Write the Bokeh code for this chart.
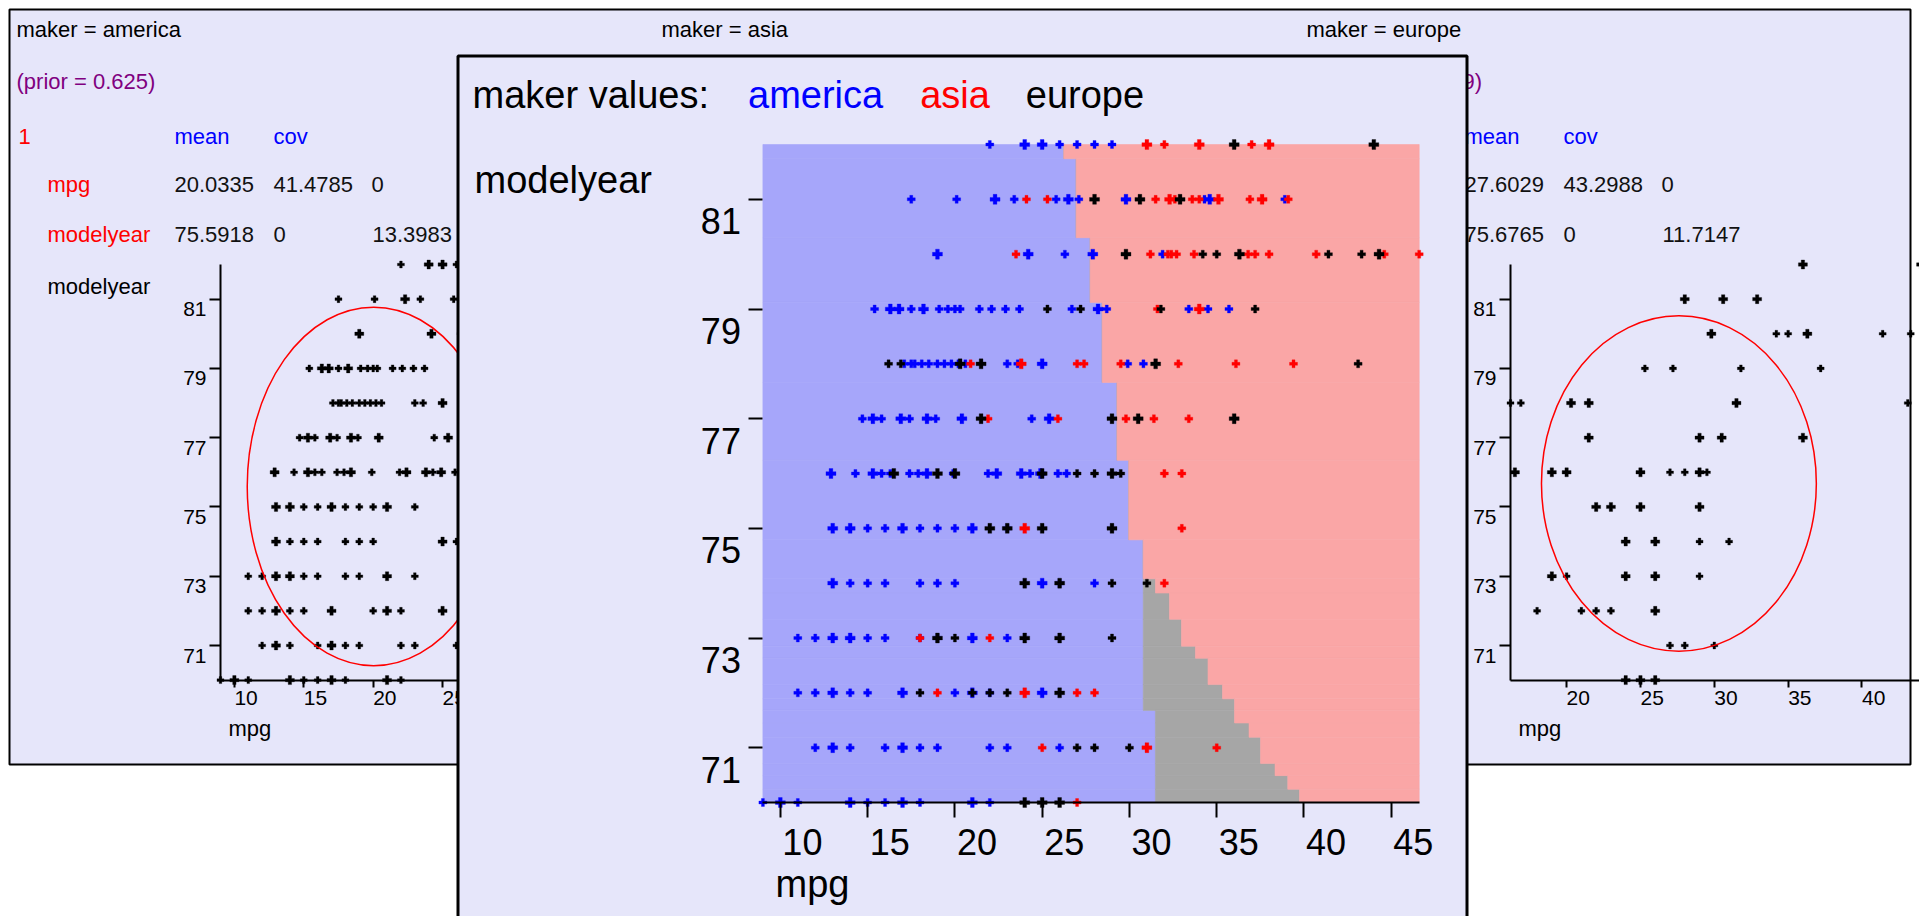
import math
from collections import Counter
from bokeh.plotting import figure
from bokeh.models import Range1d, LinearAxis, FixedTicker
from bokeh.core.properties import value
from bokeh.embed import file_html
from bokeh.resources import INLINE

# ---------------- data ----------------
makers = ["america", "asia", "europe"]
maker_colors = ["#0000ff", "#ff0000", "#000000"]
priors = ["0.625", "0.201531", "0.173469"]

# mpg values of the cars, per model year
america = {
    70: [9, 10, 10, 11, 14, 14, 15, 16, 17, 17, 18, 21, 21, 22],
    71: [12, 13, 13, 14, 16, 17, 17, 18, 19, 22, 23, 26],
    72: [11, 12, 13, 13, 14, 15, 17, 17, 20, 21, 21, 22, 25, 25],
    73: [11, 12, 13, 13, 14, 14, 15, 16, 18, 19, 21, 21, 23],
    74: [13, 13, 14, 15, 16, 18, 19, 20, 25, 25, 26, 28],
    75: [13, 13, 14, 14, 15, 16, 17, 17, 18, 19, 20, 21, 21, 23],
    76: [12.9, 12.9, 14.3, 15.3, 15.3, 15.8, 16.3, 17.4, 17.9, 18.4, 18.4, 19.9,
         21.9, 22.4, 22.4, 23.8, 23.8, 24.3, 24.9, 24.9, 25.9, 26.4],
    77: [14.7, 15.3, 15.3, 15.8, 16.9, 16.9, 17.4, 18.4, 18.4, 18.9, 20.4, 20.4,
         24.4, 25.4, 25.4],
    78: [17.1, 17.5, 17.7, 18.1, 18.5, 19.0, 19.4, 19.8, 20.2, 20.6, 23.0, 23.6,
         25.0, 25.0, 29.9, 30.8],
    79: [15.4, 16.3, 16.3, 16.8, 16.8, 17.5, 18.2, 18.2, 19.1, 19.6, 20.0, 20.3,
         21.4, 22.1, 22.9, 23.7, 26.7, 28.2, 28.2, 28.7, 33.4, 34.5, 35.7],
    80: [19.0, 19.0, 24.2, 24.2, 26.3, 27.9, 27.9, 31.9],
    81: [17.5, 20.1, 22.3, 22.3, 23.4, 25.8, 26.5, 26.5, 27.1, 29.8, 29.8, 34.3,
         34.6, 34.6, 38.9],
    82: [22, 24, 24, 25, 25, 26, 27, 28, 29],
}
asia = {
    70: [27],
    71: [25, 31, 31, 35],
    72: [19, 24, 24, 27, 28],
    73: [18, 22],
    74: [32],
    75: [24, 24, 33],
    76: [32, 33],
    77: [21.9, 25.9, 29.8, 31.4, 33.4],
    78: [20.9, 23.8, 23.8, 27.0, 27.4, 29.5, 32.8, 36.1, 39.4],
    79: [31.6, 34.0, 34.0],
    80: [23.5, 31.2, 32.2, 32.4, 32.7, 33.7, 36.8, 37.2, 38.0, 40.7, 44.6, 46.6],
    81: [24.1, 25.3, 31.5, 32.3, 32.3, 32.6, 33.6, 34.0, 35.1, 35.1, 36.9, 37.6,
         37.6, 39.1],
    82: [31, 31, 32, 34, 34, 37, 38, 38],
}
europe = {
    70: [24, 24, 25, 25, 26, 26],
    71: [27, 28, 30],
    72: [18, 21, 22, 23, 26, 26],
    73: [19, 19, 20, 24, 24, 26, 26, 29],
    74: [24, 24, 26, 26, 29, 31],
    75: [22, 22, 23, 23, 25, 25, 25, 29, 29],
    76: [16.5, 16.5, 19, 19, 20, 20, 25, 25, 27, 28, 29, 29, 29.5],
    77: [21.5, 21.5, 29, 29, 30.5, 30.5, 36, 36],
    78: [16.2, 16.9, 20.3, 20.3, 21.5, 21.5, 31.5, 31.5, 43.1],
    79: [25.3, 27.2, 31.8, 37.2],
    80: [29.8, 29.8, 34.2, 35.0, 36.3, 36.3, 41.4, 43.3, 44.3, 44.3],
    81: [28, 28, 30.6, 30.6, 32.9, 32.9],
    82: [36, 36, 44, 44],
}

america_mean = [20.0335, 75.5918]
america_cov = [41.4785, 0, 0, 13.3983]
europe_mean = [27.6029, 75.6765]
europe_cov = [43.2988, 0, 0, 11.7147]

mpg_ticks = [10, 15, 20, 25, 30, 35, 40, 45]
year_ticks = [71, 73, 75, 77, 79, 81]
year_min, year_max = 70, 82

# decision regions (model-year bands, top to bottom) and their mpg edges
band_edges = [82.00, 81.74, 80.30, 79.12, 77.66, 76.24, 74.79, 74.08, 73.82, 73.34,
              72.85, 72.63, 72.15, 71.89, 71.68, 71.45, 71.19, 70.71, 70.49, 70.24, 70.00]
america_edge = [26.24, 26.95, 27.75, 28.44, 29.29, 29.96, 30.79, 30.79, 30.79, 30.79,
                30.79, 30.79, 30.79, 30.79, 31.49, 31.49, 31.49, 31.49, 31.49, 31.49]
europe_edge = [26.24, 26.95, 27.75, 28.44, 29.29, 29.96, 30.79, 31.49, 32.29, 32.98,
               33.78, 34.50, 35.33, 36.02, 36.02, 36.85, 37.51, 38.34, 39.07, 39.74]

# ---------------- layout (page pixels) ----------------
W, H = 1919, 916
PX0, PY0 = 0, 0
LAV = "#e6e6fa"
FONT = value("Liberation Sans")
BASE_FIX = 0.33          # baseline correction, in em
PANEL_DX = 645
SM_AX_X = 220
SM_AX_LEN = 415
SM_Y_LO, SM_Y_HI = 679.6, 264.0
C_X_LO, C_X_HI = 762.4, 1418.7
C_Y_LO, C_Y_HI = 802.0, 144.0

p = figure(width=W, height=H, output_backend="svg", toolbar_location=None,
           x_range=Range1d(PX0, PX0 + W), y_range=Range1d(PY0 + H, PY0),
           x_axis_type=None, y_axis_type=None, min_border=0,
           outline_line_color=None, background_fill_color="white",
           border_fill_color="white")


def xrange_for(d0, d1, p0, p1):
    s = (d1 - d0) / (p1 - p0)
    return Range1d(start=d0 + (PX0 - p0) * s, end=d0 + (PX0 + W - p0) * s)


def yrange_for(d0, d1, p0, p1):
    s = (d1 - d0) / (p1 - p0)
    return Range1d(start=d0 + (PY0 + H - p0) * s, end=d0 + (PY0 - p0) * s)


def txt(xs, ys, labels, color, size, level="glyph", align="left", **kw):
    fix = BASE_FIX * float(size[:-2])
    if "y_offset" in kw:
        kw["y_offset"] = kw["y_offset"] - fix
    else:
        ys = [y - fix for y in ys]
    r = p.text(x=xs, y=ys, text=labels, text_font=FONT, text_font_size=size,
               text_color=color, text_align=align, text_baseline="alphabetic", **kw)
    r.level = level
    return r


def counted(d):
    c = Counter((v, yr) for yr, vals in d.items() for v in vals)
    keys = list(c.keys())
    return [k[0] for k in keys], [k[1] for k in keys], [c[k] for k in keys]


def axis(kind, xname, yname, loc, bounds, ticks, tick_out, level, line=True):
    ax = LinearAxis(x_range_name=xname, y_range_name=yname, fixed_location=loc,
                    bounds=bounds, ticker=FixedTicker(ticks=ticks, minor_ticks=[]))
    ax.major_tick_in = 0
    ax.major_tick_out = tick_out
    ax.minor_tick_in = 0
    ax.minor_tick_out = 0
    ax.axis_line_width = 2
    ax.major_tick_line_width = 2
    ax.major_label_text_color = None   # tick labels are drawn as text below
    ax.level = level
    if not line:
        ax.axis_line_color = None
    p.add_layout(ax, "below" if kind == "x" else "left")
    return ax


def tick_labels(kind, xname, yname, ticks, loc, size, xoff, yoff, level):
    labels = [str(t) for t in ticks]
    if kind == "x":
        xs, ys, align = ticks, [loc] * len(ticks), "left"
    else:
        xs, ys, align = [loc] * len(ticks), ticks, "right"
    return txt(xs, ys, labels, "black", size, level=level, align=align,
               x_offset=xoff, y_offset=yoff, x_range_name=xname, y_range_name=yname)


# ---------------- background window with the three class panels ----------------
bg = p.quad(left=[9], right=[1910], top=[9], bottom=[764], fill_color=LAV,
            line_color="black", line_width=2)
bg.level = "image"

panel_data = {"america": (america, america_mean, america_cov),
              "europe": (europe, europe_mean, europe_cov)}

for k, maker in enumerate(makers):
    dx = k * PANEL_DX
    txt([16 + dx], [36.5], [f"maker = {maker}"], "black", "22px", level="image")
    if maker not in panel_data:
        continue
    data, mean, cov = panel_data[maker]
    txt([16 + dx], [88], [f"(prior = {priors[k]})"], "#800080", "22px", level="image")
    txt([18 + dx], [143.5], ["1"], "#ff0000", "22px", level="image")
    txt([174 + dx, 273 + dx], [143.5, 143.5], ["mean", "cov"], "#0000ff", "22px",
        level="image")
    txt([47 + dx, 47 + dx], [191.5, 241.5], ["mpg", "modelyear"], "#ff0000", "22px",
        level="image")
    vals = [f"{mean[0]:g}", f"{cov[0]:g}", f"{cov[1]:g}",
            f"{mean[1]:g}", f"{cov[2]:g}", f"{cov[3]:g}"]
    txt([174 + dx, 273 + dx, 371 + dx, 174 + dx, 273 + dx, 372 + dx],
        [191.5, 191.5, 191.5, 241.5, 241.5, 241.5], vals, "#111111", "22px",
        level="image")
    txt([47 + dx], [293], ["modelyear"], "black", "22px", level="image")
    txt([228 + dx], [735], ["mpg"], "black", "22px", level="image")

    allx = [v for vals_ in data.values() for v in vals_]
    lo, hi = min(allx), max(allx)
    xn, yn = f"px{k}", f"py{k}"
    p.extra_x_ranges[xn] = xrange_for(lo, hi, SM_AX_X + dx, SM_AX_X + dx + SM_AX_LEN)
    p.extra_y_ranges[yn] = yrange_for(year_min, year_max, SM_Y_LO, SM_Y_HI)

    xs, ys, n = counted(data)
    sizes = [7 if c == 1 else 9 for c in n]
    r = p.scatter(x=xs, y=ys, size=sizes, marker="plus", fill_color="black",
                  line_color="black", line_width=0.3, x_range_name=xn, y_range_name=yn)
    r.level = "image"
    e = p.ellipse(x=[mean[0]], y=[mean[1]], width=[2 * math.sqrt(2 * cov[0])],
                  height=[2 * math.sqrt(2 * cov[3])], fill_color=None,
                  line_color="#ff0000", line_width=1.5, x_range_name=xn, y_range_name=yn)
    e.level = "image"

    xt = [t for t in mpg_ticks if lo <= t <= hi]
    axis("x", xn, yn, year_min, (lo, hi), xt, 7, "underlay")
    axis("y", xn, yn, lo, (year_min, year_max), year_ticks, 11, "underlay")
    tick_labels("x", xn, yn, xt, year_min, "21px", 0, 25, "underlay")
    tick_labels("y", xn, yn, year_ticks, lo, "21px", -14, 17, "underlay")

# ---------------- foreground window: decision regions ----------------
ov = p.quad(left=[457.5], right=[1466.5], top=[55.5], bottom=[960], fill_color=LAV,
            line_color="black", line_width=3)

all_mpg = [v for d in (america, asia, europe) for vals_ in d.values() for v in vals_]
c_lo, c_hi = min(all_mpg), max(all_mpg)
p.extra_x_ranges["cx"] = xrange_for(c_lo, c_hi, C_X_LO, C_X_HI)
p.extra_y_ranges["cy"] = yrange_for(year_min, year_max, C_Y_LO, C_Y_HI)

tops = band_edges[:-1]
bottoms = band_edges[1:]
nb = len(tops)
p.quad(left=[c_lo] * nb, right=america_edge, top=tops, bottom=bottoms,
       fill_color="#a6a6fa", line_color="#a6a6fa", line_width=0.6,
       x_range_name="cx", y_range_name="cy")
p.quad(left=america_edge, right=europe_edge, top=tops, bottom=bottoms,
       fill_color="#a6a6a6", line_color="#a6a6a6", line_width=0.6,
       x_range_name="cx", y_range_name="cy")
p.quad(left=europe_edge, right=[c_hi] * nb, top=tops, bottom=bottoms,
       fill_color="#faa6a6", line_color="#faa6a6", line_width=0.6,
       x_range_name="cx", y_range_name="cy")

for d, col in zip((america, asia, europe), maker_colors):
    xs, ys, n = counted(d)
    sizes = [8 if c == 1 else 10 for c in n]
    p.scatter(x=xs, y=ys, size=sizes, marker="plus", fill_color=col, line_color=col,
              line_width=0.3, x_range_name="cx", y_range_name="cy")

txt([472], [107], ["maker values:"], "black", "38px")
txt([747.5, 919.7, 1025.3], [107, 107, 107], makers, maker_colors, "38px")
txt([474], [192.5], ["modelyear"], "black", "38px")
txt([775], [896], ["mpg"], "black", "38px")

axis("x", "cx", "cy", year_min, (c_lo, c_hi), mpg_ticks, 15, "guide")
axis("y", "cx", "cy", c_lo, (year_min, year_max), year_ticks, 14, "guide", line=False)
tick_labels("x", "cx", "cy", mpg_ticks, year_min, "36px", 2, 51, "guide")
tick_labels("y", "cx", "cy", year_ticks, c_lo, "36px", -22, 34, "guide")

open("out.html", "w").write(file_html(p, INLINE))
